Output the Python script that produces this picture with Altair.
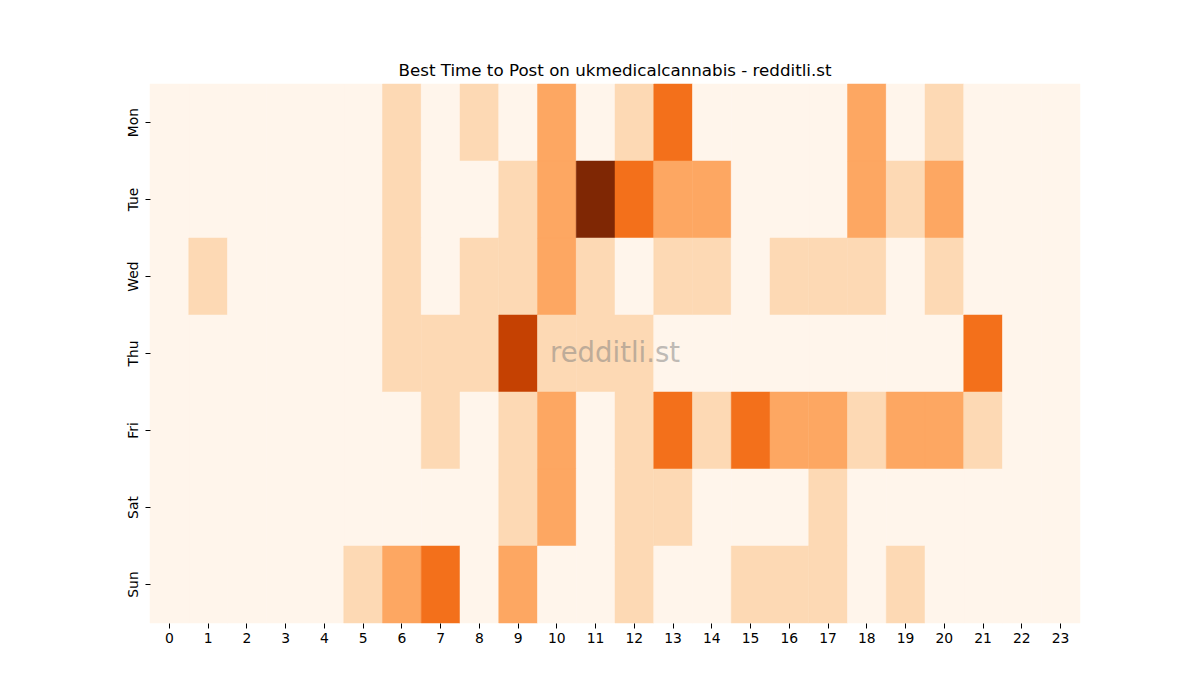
import pandas as pd
import altair as alt

days = ["Mon", "Tue", "Wed", "Thu", "Fri", "Sat", "Sun"]
hours = list(range(24))

# posts per hour slot (0..5)
mon = [0, 0, 0, 0, 0, 0, 1, 0, 1, 0, 2, 0, 1, 3, 0, 0, 0, 0, 2, 0, 1, 0, 0, 0]
tue = [0, 0, 0, 0, 0, 0, 1, 0, 0, 1, 2, 5, 3, 2, 2, 0, 0, 0, 2, 1, 2, 0, 0, 0]
wed = [0, 1, 0, 0, 0, 0, 1, 0, 1, 1, 2, 1, 0, 1, 1, 0, 1, 1, 1, 0, 1, 0, 0, 0]
thu = [0, 0, 0, 0, 0, 0, 1, 1, 1, 4, 1, 1, 1, 0, 0, 0, 0, 0, 0, 0, 0, 3, 0, 0]
fri = [0, 0, 0, 0, 0, 0, 0, 1, 0, 1, 2, 0, 1, 3, 1, 3, 2, 2, 1, 2, 2, 1, 0, 0]
sat = [0, 0, 0, 0, 0, 0, 0, 0, 0, 1, 2, 0, 1, 1, 0, 0, 0, 1, 0, 0, 0, 0, 0, 0]
sun = [0, 0, 0, 0, 0, 1, 2, 3, 0, 2, 0, 0, 1, 0, 0, 1, 1, 1, 0, 1, 0, 0, 0, 0]

levels = [0, 1, 2, 3, 4, 5]
oranges = ["#fff5eb", "#fdd9b4", "#fda762", "#f3701b", "#c54102", "#7f2704"]

rows = []
for day, vals in zip(days, [mon, tue, wed, thu, fri, sat, sun]):
    for h, v in zip(hours, vals):
        rows.append({"day": day, "hour": h, "posts": v})
df = pd.DataFrame(rows)

W, H = 930, 539
font = "DejaVu Sans"
shades = alt.Scale(domain=levels, range=oranges)

heat = (alt.Chart(df)
    .mark_rect(opacity=1, fillOpacity=1, strokeOpacity=1, strokeWidth=0.5)
    .encode(
        x=alt.X("hour:O", sort=hours, title=None,
                scale=alt.Scale(paddingInner=0, paddingOuter=0),
                axis=alt.Axis(labelAngle=0, domain=False, tickSize=5, tickColor="black",
                              labelColor="black", labelFont=font, labelFontSize=13.9,
                              labelPadding=3)),
        y=alt.Y("day:O", sort=days, title=None,
                scale=alt.Scale(paddingInner=0, paddingOuter=0),
                axis=alt.Axis(labelAngle=270, labelAlign="center", labelBaseline="bottom",
                              domain=False, tickSize=5, tickColor="black",
                              labelColor="black", labelFont=font, labelFontSize=13.9,
                              labelPadding=5)),
        color=alt.Color("posts:O", scale=shades, legend=None),
        stroke=alt.Stroke("posts:O", scale=shades, legend=None)))

mark = (alt.Chart(pd.DataFrame({"t": ["redditli.st"]}))
    .mark_text(font=font, fontSize=27.5, color="gray", opacity=0.5)
    .encode(text="t:N", x=alt.value(W / 2), y=alt.value(H / 2)))

chart = (alt.layer(heat, mark)
    .properties(width=W, height=H,
                title=alt.TitleParams("Best Time to Post on ukmedicalcannabis - redditli.st",
                                      font=font, fontSize=16.7, fontWeight="normal",
                                      color="black", offset=4),
                autosize=alt.AutoSizeParams(type="none"),
                padding={"left": 142, "top": 76, "right": 10, "bottom": 60})
    .configure_view(stroke=None))

chart.save("out.html", embed_options={"renderer": "svg", "actions": False})
